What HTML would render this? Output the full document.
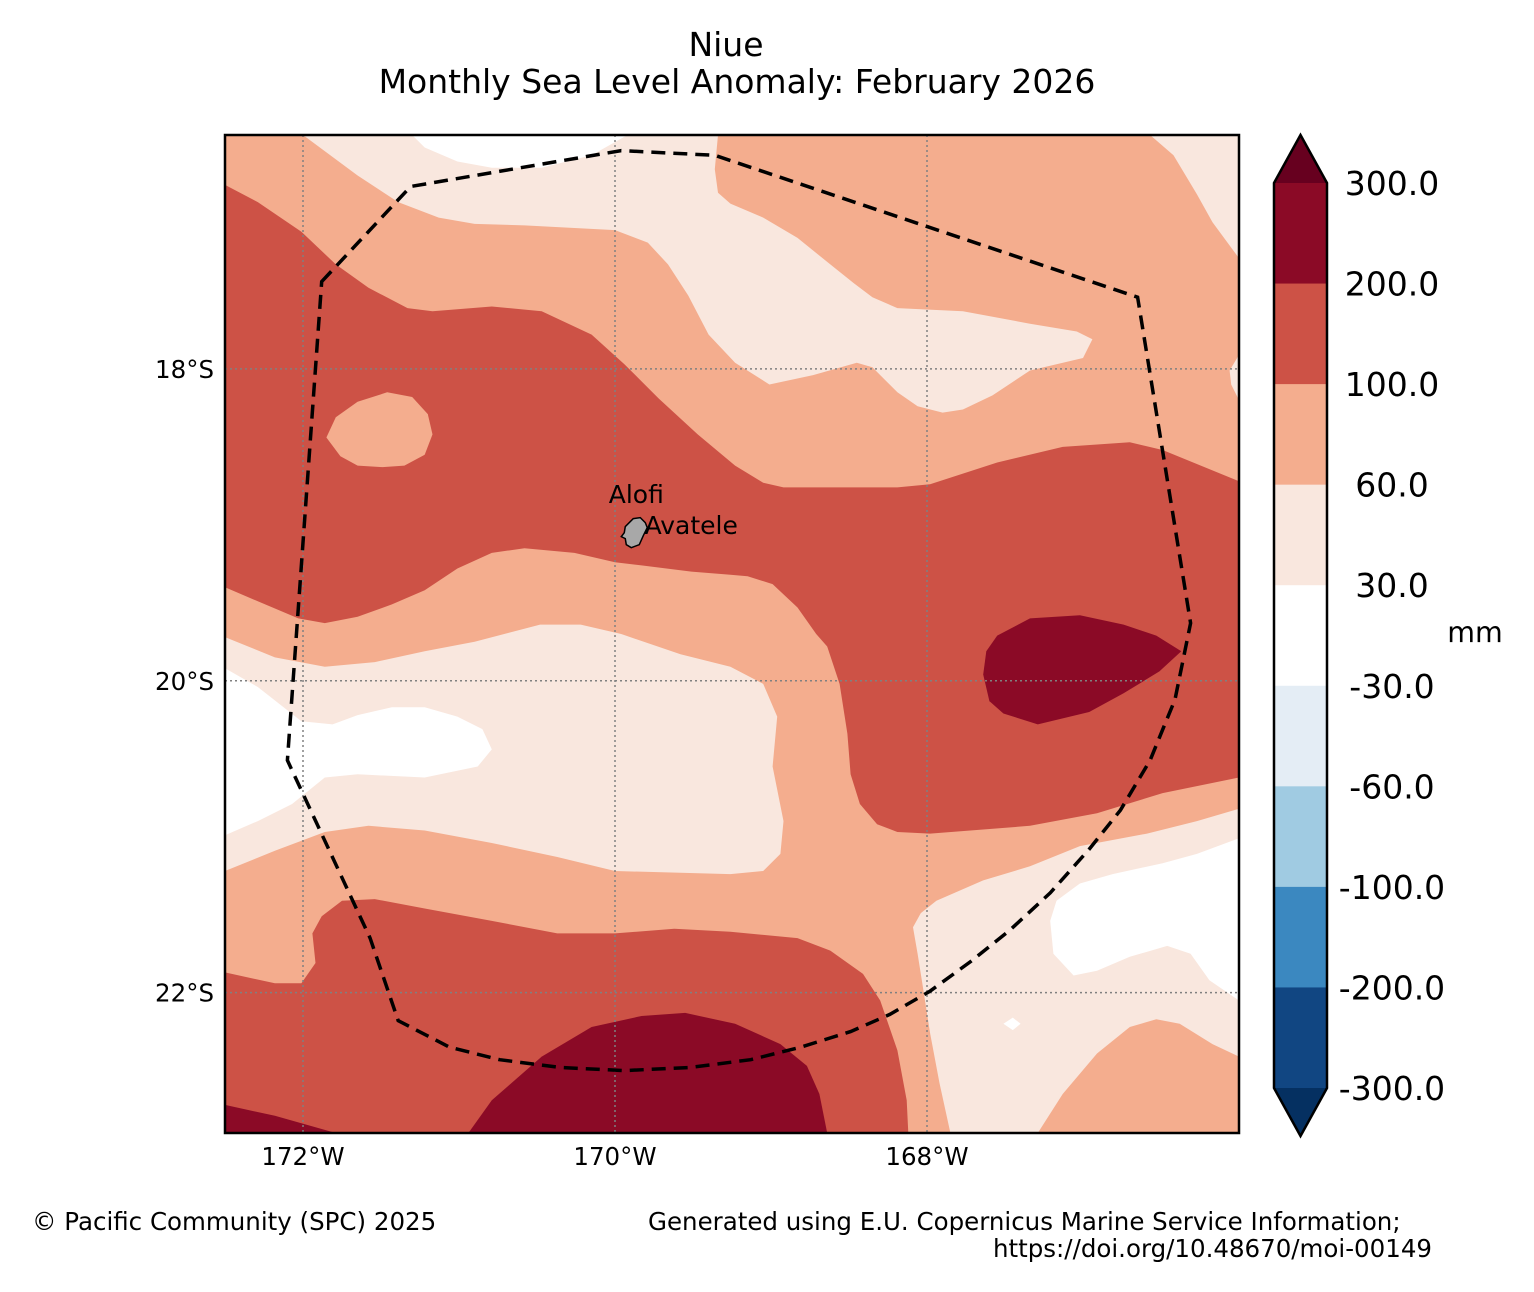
<!DOCTYPE html>
<html><head><meta charset="utf-8">
<style>
html,body{margin:0;padding:0;background:#fff;}
svg{display:block;font-family:"DejaVu Sans","Liberation Sans",sans-serif;}
</style></head>
<body>
<svg id="chart" width="1534" height="1292" viewBox="0 0 1534 1292" xmlns="http://www.w3.org/2000/svg">
<text x="726" y="56" font-size="33" text-anchor="middle">Niue</text>
<text x="737" y="93" font-size="33" text-anchor="middle">Monthly Sea Level Anomaly: February 2026</text>
<defs><clipPath id="mapclip"><rect x="225" y="135" width="1014" height="998"/></clipPath></defs>
<g id="map" clip-path="url(#mapclip)"></g>
<g id="grid"></g>
<g id="overlay"></g>
<rect x="225" y="135" width="1014" height="998" fill="none" stroke="#000" stroke-width="2.5"/>
<g id="axes"></g>
<g id="cbar"></g>
<text x="1475" y="642" font-size="28.5" text-anchor="middle">mm</text>
<text x="32" y="1230" font-size="24.5">© Pacific Community (SPC) 2025</text>
<text x="648" y="1230" font-size="24.5">Generated using E.U. Copernicus Marine Service Information;</text>
<text x="1432" y="1257" font-size="24.5" text-anchor="end">https://doi.org/10.48670/moi-00149</text>
</svg>
<script>
// ---- data (lon, lat) ----
const lonTicks = [-172, -170, -168];
const latTicks = [-18, -20, -22];
const lonTickLabels = ["172°W", "170°W", "168°W"];
const latTickLabels = ["18°S", "20°S", "22°S"];
const cbarLevels = [300, 200, 100, 60, 30, -30, -60, -100, -200, -300];
const cbarLabels = ["300.0","200.0","100.0","60.0","30.0","-30.0","-60.0","-100.0","-200.0","-300.0"];
const cbarColors = ["#8b0a26","#cd5246","#f4ad8e","#f9e7de","#ffffff","#e4edf5","#a0cbe2","#3b88c0","#114682"];
const extent = [-172.5, -166.0, -22.9, -16.5];

const paleTop = [[-172.00,-16.50],[-171.65,-16.76],[-171.39,-16.93],[-171.13,-17.03],[-170.90,-17.07],[-170.58,-17.08],[-170.00,-17.11],[-169.79,-17.19],[-169.66,-17.33],[-169.53,-17.53],[-169.40,-17.78],[-169.23,-17.96],[-169.01,-18.10],[-168.73,-18.04],[-168.45,-17.96],[-168.35,-17.99],[-168.19,-18.15],[-168.06,-18.24],[-167.90,-18.28],[-167.77,-18.26],[-167.58,-18.17],[-167.34,-18.01],[-167.00,-17.93],[-166.94,-17.81],[-167.04,-17.76],[-167.34,-17.71],[-167.77,-17.63],[-168.19,-17.61],[-168.35,-17.54],[-168.47,-17.45],[-168.62,-17.33],[-168.83,-17.16],[-169.05,-17.03],[-169.26,-16.94],[-169.34,-16.87],[-169.36,-16.72],[-169.34,-16.50]];
const whiteTop = [[-171.30,-16.50],[-171.22,-16.58],[-171.01,-16.67],[-170.79,-16.71],[-170.47,-16.71],[-170.15,-16.63],[-169.92,-16.50]];
const paleTopRight = [[-166.57,-16.50],[-166.42,-16.63],[-166.27,-16.88],[-166.17,-17.06],[-166.00,-17.29],[-166.00,-16.50]];
const paleRightEdge = [[-166.00,-17.91],[-166.06,-18.01],[-166.05,-18.10],[-166.00,-18.20]];
const redMain = [[-172.50,-16.82],[-172.29,-16.93],[-172.01,-17.12],[-171.79,-17.33],[-171.58,-17.48],[-171.33,-17.61],[-171.17,-17.63],[-170.79,-17.60],[-170.47,-17.63],[-170.15,-17.78],[-169.94,-17.97],[-169.72,-18.19],[-169.47,-18.42],[-169.23,-18.62],[-169.05,-18.73],[-168.92,-18.76],[-168.19,-18.76],[-167.98,-18.74],[-167.55,-18.60],[-167.13,-18.50],[-166.70,-18.47],[-166.49,-18.52],[-166.00,-18.72],[-166.00,-20.62],[-166.49,-20.72],[-166.91,-20.85],[-167.34,-20.93],[-167.98,-20.98],[-168.19,-20.97],[-168.32,-20.92],[-168.43,-20.79],[-168.49,-20.60],[-168.51,-20.34],[-168.56,-20.02],[-168.64,-19.78],[-168.71,-19.70],[-168.83,-19.53],[-168.99,-19.38],[-169.15,-19.33],[-169.26,-19.32],[-169.51,-19.30],[-169.83,-19.26],[-170.00,-19.24],[-170.26,-19.18],[-170.58,-19.15],[-170.79,-19.18],[-171.01,-19.28],[-171.22,-19.42],[-171.43,-19.51],[-171.65,-19.59],[-171.86,-19.63],[-172.03,-19.60],[-172.29,-19.49],[-172.50,-19.40]];
const salmonHole = [[-171.85,-18.44],[-171.79,-18.31],[-171.65,-18.21],[-171.46,-18.15],[-171.30,-18.18],[-171.20,-18.29],[-171.17,-18.42],[-171.22,-18.55],[-171.35,-18.62],[-171.49,-18.63],[-171.65,-18.62],[-171.76,-18.56]];
const darkEast = [[-167.55,-19.71],[-167.34,-19.60],[-167.02,-19.58],[-166.74,-19.64],[-166.53,-19.71],[-166.37,-19.81],[-166.51,-19.94],[-166.74,-20.08],[-166.96,-20.20],[-167.29,-20.28],[-167.51,-20.21],[-167.60,-20.13],[-167.64,-19.96],[-167.62,-19.81]];
const paleMid = [[-172.50,-19.72],[-172.18,-19.85],[-171.86,-19.91],[-171.54,-19.88],[-171.22,-19.81],[-170.90,-19.75],[-170.71,-19.70],[-170.48,-19.64],[-170.22,-19.64],[-169.96,-19.70],[-169.58,-19.83],[-169.26,-19.91],[-169.05,-20.02],[-168.96,-20.23],[-168.99,-20.55],[-168.92,-20.90],[-168.94,-21.11],[-169.05,-21.22],[-169.26,-21.24],[-170.00,-21.22],[-170.37,-21.13],[-170.79,-21.04],[-171.22,-20.96],[-171.58,-20.93],[-171.86,-20.97],[-172.18,-21.09],[-172.50,-21.22]];
const whiteWest = [[-172.50,-19.92],[-172.29,-20.04],[-172.01,-20.26],[-171.81,-20.28],[-171.65,-20.22],[-171.43,-20.17],[-171.22,-20.17],[-171.01,-20.23],[-170.85,-20.31],[-170.79,-20.44],[-170.88,-20.55],[-171.22,-20.62],[-171.65,-20.60],[-171.86,-20.62],[-172.07,-20.79],[-172.29,-20.90],[-172.50,-20.99]];
const redSouth = [[-172.50,-21.87],[-172.18,-21.94],[-172.01,-21.94],[-171.92,-21.81],[-171.94,-21.62],[-171.88,-21.51],[-171.75,-21.41],[-171.54,-21.40],[-171.22,-21.46],[-170.79,-21.54],[-170.37,-21.62],[-170.00,-21.62],[-169.62,-21.59],[-169.26,-21.61],[-168.83,-21.65],[-168.62,-21.73],[-168.41,-21.88],[-168.30,-22.05],[-168.19,-22.37],[-168.13,-22.69],[-168.12,-22.90],[-172.50,-22.90]];
const darkSouth = [[-170.94,-22.90],[-170.79,-22.69],[-170.47,-22.41],[-170.15,-22.22],[-169.83,-22.15],[-169.55,-22.13],[-169.23,-22.20],[-168.94,-22.33],[-168.77,-22.47],[-168.69,-22.65],[-168.64,-22.90]];
const darkSouthWest = [[-172.50,-22.72],[-172.18,-22.79],[-171.79,-22.90],[-172.50,-22.90]];
const paleSouthEast = [[-166.00,-20.82],[-166.27,-20.90],[-166.59,-20.98],[-167.02,-21.06],[-167.34,-21.19],[-167.64,-21.28],[-167.94,-21.41],[-168.04,-21.49],[-168.09,-21.58],[-168.06,-21.75],[-168.03,-21.94],[-167.98,-22.26],[-167.92,-22.58],[-167.85,-22.90],[-167.29,-22.90],[-167.13,-22.65],[-166.91,-22.39],[-166.70,-22.22],[-166.53,-22.17],[-166.38,-22.20],[-166.17,-22.33],[-166.00,-22.41]];
const whiteSouthEast = [[-166.00,-21.01],[-166.27,-21.11],[-166.49,-21.17],[-166.81,-21.24],[-167.02,-21.30],[-167.17,-21.41],[-167.21,-21.54],[-167.19,-21.75],[-167.06,-21.89],[-166.91,-21.86],[-166.70,-21.77],[-166.46,-21.70],[-166.31,-21.75],[-166.19,-21.92],[-166.00,-22.05]];
const whiteSpeck = [[-167.51,-22.20],[-167.45,-22.16],[-167.40,-22.20],[-167.45,-22.24]];
const eezBoundary = [[-171.88,-17.44],[-171.31,-16.83],[-169.96,-16.60],[-169.36,-16.63],[-166.65,-17.54],[-166.31,-19.63],[-166.41,-20.12],[-166.57,-20.51],[-166.76,-20.83],[-166.96,-21.08],[-167.21,-21.36],[-167.47,-21.60],[-167.72,-21.80],[-167.98,-21.99],[-168.24,-22.14],[-168.49,-22.25],[-168.81,-22.35],[-169.13,-22.43],[-169.52,-22.48],[-169.94,-22.50],[-170.35,-22.48],[-170.74,-22.43],[-171.06,-22.35],[-171.39,-22.18],[-171.57,-21.65],[-172.10,-20.51]];
const islandCenter = [-169.87, -19.05];
const places = ["Alofi", "Avatele"];
const placeLon = [-170.04, -169.81];
const placeLat = [-18.86, -19.06];

// ---- axes ----
const MX0 = 225, MX1 = 1239, MY0 = 135, MY1 = 1133;
function X(lon){ return MX0 + (lon - extent[0]) / (extent[1] - extent[0]) * (MX1 - MX0); }
function Y(lat){ return MY0 + (extent[3] - lat) / (extent[3] - extent[2]) * (MY1 - MY0); }
const NS = "http://www.w3.org/2000/svg";
function mk(tag, attrs, parent){
  const e = document.createElementNS(NS, tag);
  for (const k in attrs) e.setAttribute(k, attrs[k]);
  parent.appendChild(e); return e;
}
const map = document.getElementById('map');
const bg = mk('rect', {x:MX0, y:MY0, width:MX1-MX0, height:MY1-MY0, fill:"#f4ad8e"}, map);


function poly(pts, fill, name){
  const d = pts.map((p,i)=>(i?'L':'M')+X(p[0]).toFixed(1)+','+Y(p[1]).toFixed(1)).join('')+'Z';
  const el = mk('path', {d:d, fill:fill}, map);
  
  
}
poly(paleTop, "#f9e7de", "band-30-60-north");
poly(whiteTop, "#ffffff", "band-neutral-north");
poly(paleTopRight, "#f9e7de", "band-30-60-northeast");
poly(paleRightEdge, "#f9e7de", "band-30-60-east-edge");
poly(redMain, "#cd5246", "band-100-200-central");
poly(salmonHole, "#f4ad8e", "band-60-100-west-pocket");
poly(darkEast, "#8b0a26", "band-200-300-east");
poly(paleMid, "#f9e7de", "band-30-60-central");
poly(whiteWest, "#ffffff", "band-neutral-west");
poly(redSouth, "#cd5246", "band-100-200-south");
poly(darkSouth, "#8b0a26", "band-200-300-south");
poly(darkSouthWest, "#8b0a26", "band-200-300-southwest");
poly(paleSouthEast, "#f9e7de", "band-30-60-southeast");
poly(whiteSouthEast, "#ffffff", "band-neutral-southeast");
poly(whiteSpeck, "#ffffff", "band-neutral-speck");

// graticule
const grid = document.getElementById('grid');
lonTicks.forEach(lon=>{
  const l = mk('line', {x1:X(lon), x2:X(lon), y1:MY0, y2:MY1, stroke:"#808080", "stroke-width":1.5, "stroke-dasharray":"2,3"}, grid);
  
  
});
latTicks.forEach(lat=>{
  const l = mk('line', {x1:MX0, x2:MX1, y1:Y(lat), y2:Y(lat), stroke:"#808080", "stroke-width":1.5, "stroke-dasharray":"2,3"}, grid);
  
  
});

// overlay: EEZ, island, labels
const ov = document.getElementById('overlay');
const eez = mk('path', {d: eezBoundary.map((p,i)=>(i?'L':'M')+X(p[0]).toFixed(1)+','+Y(p[1]).toFixed(1)).join('')+'Z', fill:"none", stroke:"#000", "stroke-width":3.5, "stroke-dasharray":"14,8"}, ov);


const ix = X(islandCenter[0]), iy = Y(islandCenter[1]);
const isl = mk('path', {d:`M${ix-2},${iy-14} L${ix+5},${iy-15} L${ix+10},${iy-10} L${ix+12},${iy-5} L${ix+8},${iy+3} L${ix+4},${iy+12} L${ix-4},${iy+15} L${ix-9},${iy+12} L${ix-10},${iy+6} L${ix-14},${iy+4} L${ix-11},${iy} L${ix-10},${iy-6} Z`, fill:"#a8a8a8", stroke:"#000", "stroke-width":1.5}, ov);


places.forEach((p,i)=>{
  const t = mk('text', {x:X(placeLon[i]), y:Y(placeLat[i]), "font-size":25}, ov);
  t.textContent = p;
  
  
});

// axis tick labels
const axes = document.getElementById('axes');
lonTicks.forEach((lon,i)=>{
  const t = mk('text', {x:X(lon), y:MY1+32, "font-size":24.5, "text-anchor":"middle"}, axes);
  t.textContent = lonTickLabels[i];
  
  
});
latTicks.forEach((lat,i)=>{
  const t = mk('text', {x:MX0-11, y:Y(lat)+9, "font-size":24.5, "text-anchor":"end"}, axes);
  t.textContent = latTickLabels[i];
  
  
});

// colorbar
const cb = document.getElementById('cbar');
const CX0 = 1274, CX1 = 1327, CY0 = 183, CY1 = 1088;
const nSeg = cbarColors.length;
function CY(i){ return CY0 + i * (CY1 - CY0) / nSeg; }
cbarColors.forEach((c,i)=>{
  const r = mk('rect', {x:CX0, y:CY(i), width:CX1-CX0, height:CY(i+1)-CY(i)+0.5, fill:c}, cb);
  
  
});
const tTop = mk('polygon', {points:`${CX0},${CY0} ${(CX0+CX1)/2},${CY0-48} ${CX1},${CY0}`, fill:"#67001f"}, cb);


const tBot = mk('polygon', {points:`${CX0},${CY1} ${(CX0+CX1)/2},${CY1+48} ${CX1},${CY1}`, fill:"#053061"}, cb);


const outline = mk('polygon', {points:`${CX0},${CY0} ${(CX0+CX1)/2},${CY0-48} ${CX1},${CY0} ${CX1},${CY1} ${(CX0+CX1)/2},${CY1+48} ${CX0},${CY1}`, fill:"none", stroke:"#000", "stroke-width":2.5}, cb);


cbarLevels.forEach((v,i)=>{
  const t = mk('text', {x:1392, y:CY(i)+12, "font-size":33, "text-anchor":"middle"}, cb);
  t.textContent = cbarLabels[i];
  
  
});
</script>
</body></html>
